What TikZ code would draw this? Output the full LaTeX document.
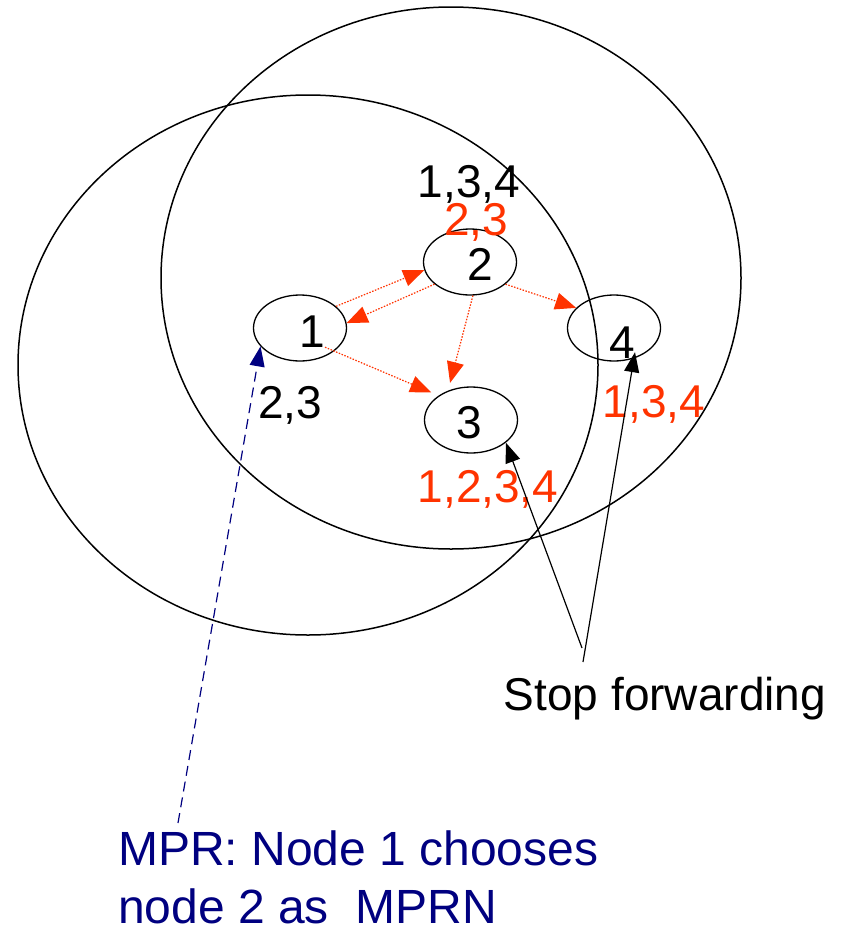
\documentclass[tikz,border=0pt]{standalone}
\usepackage{fontspec}
\setmainfont{Liberation Sans}
\usetikzlibrary{arrows.meta,shapes.geometric}
\definecolor{fwdred}{HTML}{FF3300}
\definecolor{mprblue}{HTML}{000080}
\tikzset{
  radio/.style={draw=black,line width=1.5pt},
  host/.style={draw=black,ellipse,line width=1.3pt,minimum width=93pt,
               minimum height=66pt,inner sep=0pt},
  num/.style={anchor=base,inner sep=0pt,font=\fontsize{46}{50}\selectfont},
  rednum/.style={num,text=fwdred},
  fwdarr/.style={-{Triangle[length=21pt,width=17pt]},draw=fwdred,
                 line width=1.2pt,dash pattern=on 1.5pt off 1.5pt},
  stoparr/.style={-{Triangle[length=20pt,width=15pt]},draw=black,
                  line width=1.2pt},
  mprarr/.style={-{Triangle[length=20pt,width=15pt]},draw=mprblue,
                 line width=1.2pt,dash pattern=on 10pt off 6pt}
}
\begin{document}
\begin{tikzpicture}[x=1pt,y=-1pt]
    \path[use as bounding box,fill=white] (0,0) rectangle (844,926);
    % radio ranges of node 1 and node 2
    \draw[radio] (308,365) ellipse [x radius=290pt,y radius=270pt];
    \draw[radio] (451,278) ellipse [x radius=290pt,y radius=271pt];

    \node[host] (n1) at (300,328) {};
    \node[host] (n2) at (470,262) {};
    \node[host] (n3) at (471,420) {};
    \node[host] (n4) at (614,328) {};
    \node[num] (l1) at (312,347) {1};
    \node[num] (l2) at (480,280) {2};
    \node[num] (l3) at (469,438) {3};
    \node[num] (l4) at (622,358) {4};

    \node[num] (h2) at (469,197) {1,3,4};
    \node[rednum] (r2) at (476,235) {2,3};
    \node[num] (h1) at (290,418) {2,3};
    \node[rednum] (r4) at (654,417) {1,3,4};
    \node[rednum] (r3) at (488,502) {1,2,3,4};

    \draw[fwdarr] (n1.31) -- (n2.190);
    \draw[fwdarr] (n2.212) -- (n1.6);
    \draw[fwdarr,shorten >=8pt] (l1.south east) -- (n3.143);
    \draw[fwdarr,shorten >=8pt] (n2.275) -- (n3.128);
    \draw[fwdarr] (n2.328) -- (n4.152);

    \node[num] (stop) at (665,710) {Stop forwarding};
    \coordinate (sf3) at (582,648);
    \coordinate (sf4) at (583,662);
    \draw[stoparr] (sf3) -- (n3.327);
    \draw[stoparr] (sf4) -- ([yshift=6pt]l4.south east);

    \node[anchor=base west,inner sep=0pt,align=left,text=mprblue,
          font=\fontsize{48}{58}\selectfont] (mpr) at (118,923)
      {MPR: Node 1 chooses\\node 2 as\ \ MPRN};
    \coordinate (mprtail) at (178,823);
    \draw[mprarr] (mprtail) -- (n1.205);
\end{tikzpicture}
\end{document}
